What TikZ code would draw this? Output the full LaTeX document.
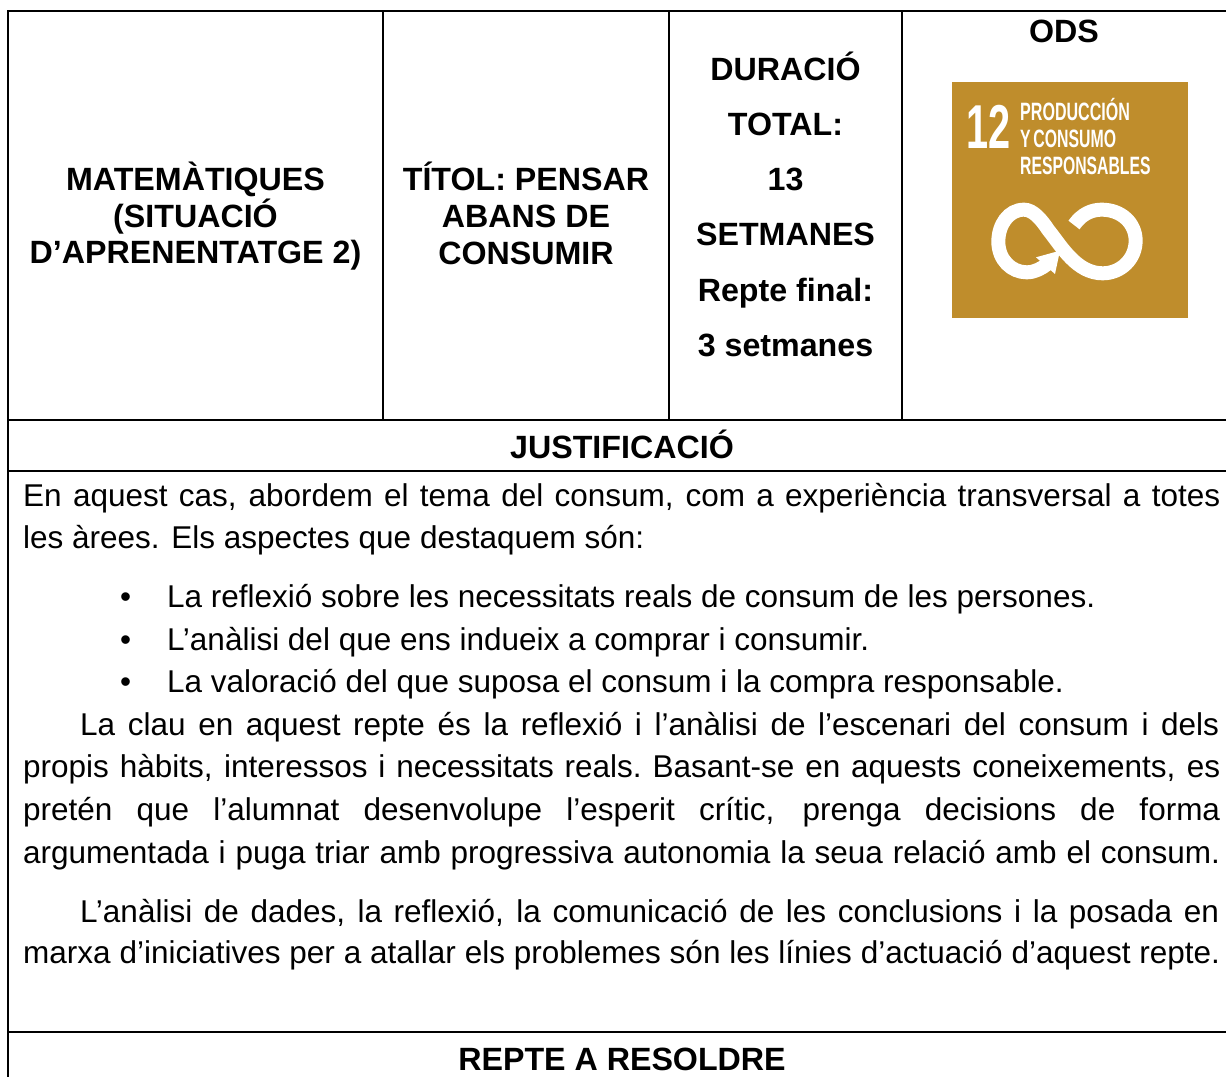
\documentclass[tikz,border=0pt]{standalone}
\usepackage{fontspec}
\setmainfont{Liberation Sans}
\definecolor{sdgbrown}{HTML}{BF8D2C}
\newcommand{\jl}[2]{\hbox to #1pt{\spaceskip=0.278em plus 1fil minus 0.2em\relax\xspaceskip=\spaceskip #2}}
\tikzset{
 rule/.style={line width=2pt,black},
 headb/.style={font=\fontsize{32.2}{36}\selectfont\bfseries,anchor=base,inner sep=0pt,text=black},
 body/.style={font=\fontsize{31.5}{36}\selectfont,anchor=base west,inner sep=0pt,text=black},
 sdg/.style={font=\bfseries,anchor=base west,inner sep=0pt,text=white},
}
\begin{document}
\begin{tikzpicture}[x=1pt,y=-1pt]
\useasboundingbox (0,0) rectangle (1226,1077);
\fill[white] (0,0) rectangle (1226,1077);
% rules
\draw[rule] (8,11) -- (1226,11);
\draw[rule] (8,419.5) -- (1226,419.5);
\draw[rule] (8,470.5) -- (1226,470.5);
\draw[rule] (8,1032) -- (1226,1032);
\draw[rule] (8,10) -- (8,1077);
\draw[rule] (383,11) -- (383,419.5);
\draw[rule] (669,11) -- (669,419.5);
\draw[rule] (902,11) -- (902,419.5);
% header
\node[headb] (m1) at (195.5,190) {MATEMÀTIQUES};
\node[headb] (m2) at (195.5,227) {(SITUACIÓ};
\node[headb] (m3) at (195.5,263) {D’APRENENTATGE 2)};
\node[headb] (t1) at (526,190) {TÍTOL: PENSAR};
\node[headb] (t2) at (526,227) {ABANS DE};
\node[headb] (t3) at (526,264) {CONSUMIR};
\node[headb] (d1) at (785.5,80) {DURACIÓ};
\node[headb] (d2) at (785.5,135) {TOTAL:};
\node[headb] (d3) at (785.5,190) {13};
\node[headb] (d4) at (785.5,245) {SETMANES};
\node[headb] (d5) at (785.5,301) {Repte final:};
\node[headb] (d6) at (785.5,356) {3 setmanes};
\node[headb] (ods) at (1064,42) {ODS};
% icon
\fill[fill=sdgbrown] (952,82) rectangle (1188,318);
\node[sdg] (n12) at (966,148) {\scalebox{0.64}[1]{\fontsize{62}{62}\selectfont 12}};
\node[sdg] (p1) at (1020,120.5) {\scalebox{0.73}[1.14]{\fontsize{22}{22}\selectfont PRODUCCIÓN}};
\node[sdg] (p2) at (1020,147) {\scalebox{0.72}[1.14]{\fontsize{22}{22}\selectfont Y\kern0.17em CONSUMO}};
\node[sdg] (p3) at (1020,174) {\scalebox{0.716}[1.14]{\fontsize{22}{22}\selectfont RESPONSABLES}};
\begin{scope}[shift={(930,60)},x=0.3333pt,y=-0.3333pt]
\draw[white,line width=14pt] (432,495) .. controls (455,462) and (485,449) .. (515,449)
 .. controls (575,449) and (617,490) .. (617,542)
 .. controls (617,598) and (572,640) .. (518,640)
 .. controls (440,640) and (395,560) .. (355,510)
 .. controls (335,480) and (310,449) .. (282,449)
 .. controls (235,449) and (205,495) .. (205,545)
 .. controls (205,600) and (245,637) .. (290,637)
 .. controls (315,637) and (335,625) .. (352,612);
\fill[white] (390,572) -- (318,592) -- (375,642) -- cycle;
\end{scope}
% justification
\node[headb] (jus) at (622,458) {JUSTIFICACIÓ};
\node[body] (l1) at (23,506) {\jl{1197}{En aquest cas, abordem el tema del consum, com a experiència transversal a totes}};
\node[body] (l2) at (23,548) {les àrees. Els aspectes que destaquem són:};
\node[body] (b1) at (120,607) {•};
\node[body] (b2) at (120,650) {•};
\node[body] (b3) at (120,692) {•};
\node[body] (l3) at (167,607) {La reflexió sobre les necessitats reals de consum de les persones.};
\node[body] (l4) at (167,650) {L’anàlisi del que ens indueix a comprar i consumir.};
\node[body] (l5) at (167,692) {La valoració del que suposa el consum i la compra responsable.};
\node[body] (l6) at (80,735) {\jl{1139}{La clau en aquest repte és la reflexió i l’anàlisi de l’escenari del consum i dels}};
\node[body] (l7) at (23,777) {\jl{1197}{propis hàbits, interessos i necessitats reals. Basant-se en aquests coneixements, es}};
\node[body] (l8) at (23,820) {\jl{1197}{pretén que l’alumnat desenvolupe l’esperit crític, prenga decisions de forma}};
\node[body] (l9) at (23,863) {\jl{1197}{argumentada i puga triar amb progressiva autonomia la seua relació amb el consum.}};
\node[body] (l10) at (80,922) {\jl{1139}{L’anàlisi de dades, la reflexió, la comunicació de les conclusions i la posada en}};
\node[body] (l11) at (23,963) {\jl{1197}{marxa d’iniciatives per a atallar els problemes són les línies d’actuació d’aquest repte.}};
\node[headb] (rep) at (622,1070) {REPTE A RESOLDRE};
\end{tikzpicture}
\end{document}
